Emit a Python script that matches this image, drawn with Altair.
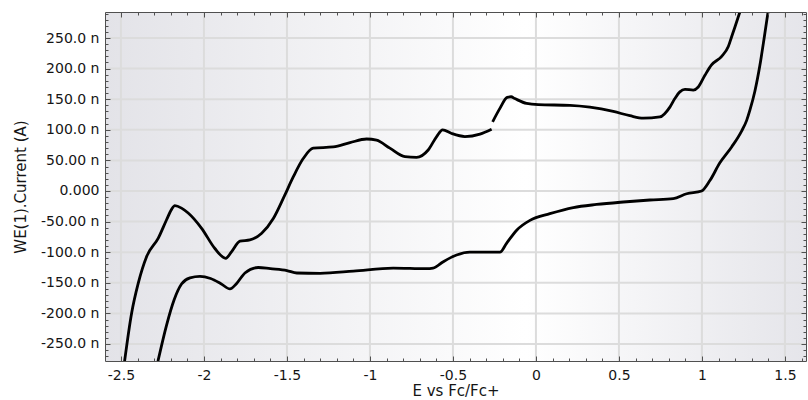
import altair as alt
import pandas as pd

# Cyclic voltammogram: potential E (V vs Fc/Fc+) and current I (nA)
# Upper branch, first segment (ends at the gap near -0.27 V)
up1_E = [-2.478, -2.436, -2.396, -2.345, -2.275, -2.225, -2.195, -2.175, -2.135,
         -2.095, -2.014, -1.934, -1.869, -1.833, -1.783, -1.723, -1.652, -1.582,
         -1.515, -1.462, -1.402, -1.342, -1.221, -1.120, -1.020, -0.960, -0.880,
         -0.789, -0.719, -0.649, -0.598, -0.562, -0.508, -0.428, -0.337, -0.267]
up1_I = [-278, -200, -151, -107, -77, -47, -30, -24, -28,
         -36, -61, -94, -110, -99, -82, -80, -69, -45,
         -8, 23, 53, 70, 72, 79, 85, 83, 70,
         56, 55, 67, 89, 100, 94, 89, 93, 101]

# Upper branch, second segment
up2_E = [-0.261, -0.217, -0.173, -0.150, -0.127, -0.056, 0.014, 0.205, 0.325,
         0.466, 0.566, 0.647, 0.747, 0.807, 0.837, 0.867, 0.898, 0.948, 0.978,
         1.018, 1.058, 1.119, 1.159, 1.179, 1.199, 1.228]
up2_I = [113, 135, 153, 154, 151, 143, 141, 140, 137,
         130, 123, 119, 121, 137, 151, 162, 166, 165, 170,
         189, 206, 220, 236, 252, 268, 292]

# Lower branch
low_E = [-2.277, -2.225, -2.180, -2.135, -2.084, -2.024, -1.960, -1.900, -1.843,
         -1.803, -1.753, -1.673, -1.600, -1.500, -1.440, -1.300, -1.100, -0.860,
         -0.660, -0.620, -0.558, -0.478, -0.398, -0.277, -0.217, -0.177, -0.116,
         -0.036, 0.084, 0.225, 0.366, 0.526, 0.687, 0.827, 0.908, 0.998, 1.048,
         1.108, 1.179, 1.239, 1.269, 1.289, 1.319, 1.349, 1.375, 1.398]
low_I = [-278, -219, -178, -152, -142, -139.5, -143, -151, -160,
         -151, -134, -125, -127, -130, -134, -134.5, -131, -126,
         -127, -126, -115.5, -104.6, -100, -100, -100, -85.5, -64,
         -48, -37, -27, -22, -18, -14.7, -12.5, -4.5, 0, 17,
         46, 72, 98, 115, 132, 163, 205, 250, 292]

# Axis tick positions
x_major = [-2.5, -2.0, -1.5, -1.0, -0.5, 0.0, 0.5, 1.0, 1.5]
y_major = [-250, -200, -150, -100, -50, 0, 50, 100, 150, 200, 250]
x_minor = [round(-2.5 + 0.1 * i, 1) for i in range(42)]
y_minor = list(range(-270, 291, 10))

X_DOMAIN = [-2.596, 1.627]
Y_DOMAIN = [-277.8, 292.5]
W, H = 701, 349

FONT = "DejaVu Sans"
TEXT = "#151515"
LINE = "#505050"

frames = []
for seg, (es, cs) in {"up1": (up1_E, up1_I), "up2": (up2_E, up2_I),
                      "low": (low_E, low_I)}.items():
    frames.append(pd.DataFrame({"E": es, "I": cs, "seg": seg}))
cv = pd.concat(frames, ignore_index=True)

xs = alt.Scale(domain=X_DOMAIN, nice=False, zero=False)
ys = alt.Scale(domain=Y_DOMAIN, nice=False, zero=False)

y_label_expr = (
    "datum.value == 0 ? '0.000' : "
    "(datum.value < 0 ? '-' : '') + "
    "(abs(datum.value) < 100 ? format(abs(datum.value), '.2f') "
    ": format(abs(datum.value), '.1f')) + ' n'"
)

x_main = alt.Axis(orient="bottom", values=x_major, labelExpr="'' + datum.value",
                  ticks=False, tickSize=0, domain=False, grid=False,
                  labelFont=FONT, labelFontSize=14, labelColor=TEXT,
                  labelPadding=7, labelFlush=False, labelOverlap=False,
                  title="E vs Fc/Fc+", titleFont=FONT, titleFontSize=15,
                  titleFontWeight="normal", titleColor=TEXT,
                  titleY=34, titleBaseline="alphabetic")
y_main = alt.Axis(orient="left", values=y_major, labelExpr=y_label_expr,
                  ticks=False, tickSize=0, domain=False, grid=False,
                  labelFont=FONT, labelFontSize=14, labelColor=TEXT,
                  labelPadding=6, labelFlush=False, labelOverlap=False,
                  title="WE(1).Current (A)", titleFont=FONT, titleFontSize=15,
                  titleFontWeight="normal", titleColor=TEXT,
                  titleX=-85, titleY=H / 2, titleAngle=270,
                  titleAlign="center", titleBaseline="middle")


def tick_axis(orient, values, size, offset, domain):
    return alt.Axis(orient=orient, values=values, offset=offset, tickSize=size,
                    ticks=True, tickColor=LINE, tickWidth=1, labels=False,
                    grid=False, domain=domain, domainColor=LINE, domainWidth=1,
                    title=None, zindex=2)


# inward-pointing ticks: axes flipped onto the opposite edge
x_bottom_major = tick_axis("top", x_major, 5, -H, True)
x_bottom_minor = tick_axis("top", x_minor, 3, -H, False)
x_top_major = tick_axis("bottom", x_major, 5, -H, True)
x_top_minor = tick_axis("bottom", x_minor, 3, -H, False)
y_left_major = tick_axis("right", y_major, 5, -W, True)
y_left_minor = tick_axis("right", y_minor, 3, -W, False)
y_right_major = tick_axis("left", y_major, 5, -W, True)
y_right_minor = tick_axis("left", y_minor, 3, -W, False)

gradient = alt.Gradient(
    gradient="linear", x1=0, x2=1, y1=0, y2=0,
    stops=[alt.GradientStop(offset=0, color="#e3e3e8"),
           alt.GradientStop(offset=0.6, color="#ffffff"),
           alt.GradientStop(offset=1, color="#e5e5ea")],
)
background = alt.Chart(pd.DataFrame({"k": [0]})).mark_rect(color=gradient).encode(
    x=alt.value(0), x2=alt.value(W), y=alt.value(0), y2=alt.value(H)
)

vgrid = alt.Chart(pd.DataFrame({"E": x_major})).mark_rule(
    color="#dcdcdc", strokeWidth=2
).encode(x=alt.X("E:Q", scale=xs, axis=x_main))

hgrid = alt.Chart(pd.DataFrame({"I": y_major})).mark_rule(
    color="#dcdcdc", strokeWidth=2
).encode(y=alt.Y("I:Q", scale=ys, axis=y_main))

curves = alt.Chart(cv).mark_line(
    color="#000000", strokeWidth=2.8, interpolate="monotone", clip=True
).encode(
    x=alt.X("E:Q", scale=xs, axis=x_bottom_major),
    y=alt.Y("I:Q", scale=ys, axis=y_left_major),
    detail="seg:N",
)


def carrier(xa, ya):
    return alt.Chart(cv).mark_line(strokeOpacity=0).encode(
        x=alt.X("E:Q", scale=xs, axis=xa),
        y=alt.Y("I:Q", scale=ys, axis=ya),
        detail="seg:N",
    )


chart = alt.layer(
    background, vgrid, hgrid, curves,
    carrier(x_bottom_minor, y_left_minor),
    carrier(x_top_major, y_right_major),
    carrier(x_top_minor, y_right_minor),
).resolve_axis(
    x="independent", y="independent"
).properties(
    width=W, height=H,
    padding={"left": 105, "top": 12, "right": 2, "bottom": 39},
    autosize=alt.AutoSizeParams(type="none"),
    background="#ffffff",
).configure_view(strokeWidth=0)

chart.save("out.html", embed_options={"renderer": "svg", "actions": False})
